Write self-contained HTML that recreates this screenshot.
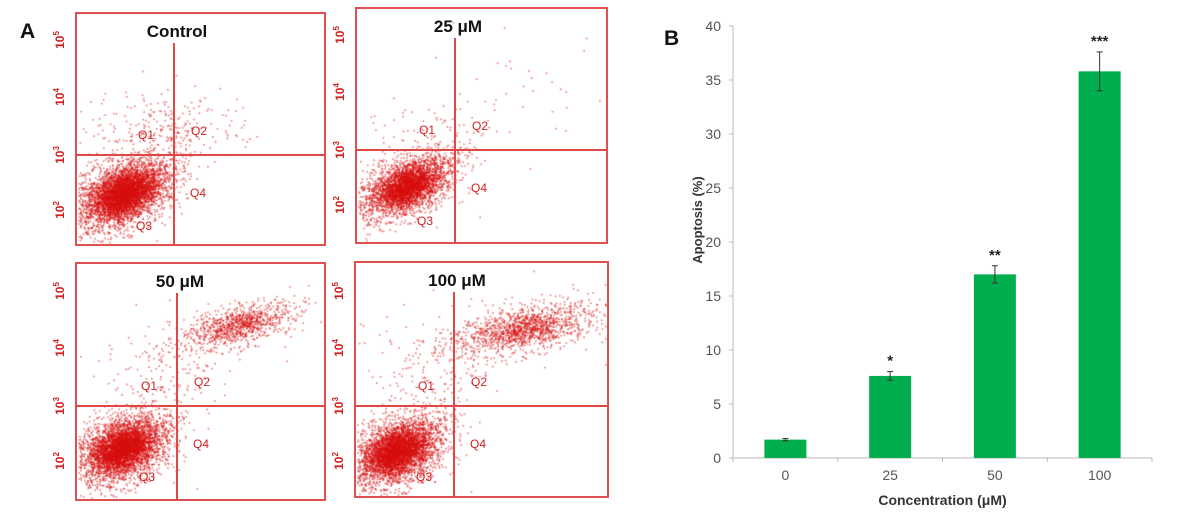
<!DOCTYPE html>
<html><head><meta charset="utf-8"><style>
body{margin:0;background:#fff;}
#wrap{position:relative;width:1202px;height:515px;overflow:hidden;font-family:"Liberation Sans",sans-serif;}
canvas,svg{position:absolute;left:0;top:0;}
</style></head><body>
<div id="wrap">
<canvas id="dots" width="1202" height="515"></canvas>
<svg id="svg" width="1202" height="515"></svg>
</div>
<script>
// Panel B data
const categories = ["0","25","50","100"];
const apoptosis = [1.7, 7.6, 17.0, 35.8];
const errors = [0.1, 0.4, 0.8, 1.8];
const stars = ["", "*", "**", "***"];
const yTicks = [0,5,10,15,20,25,30,35,40];
// Panel A data
const panelTitles = ["Control","25 μM","50 μM","100 μM"];
const panelBoxes = [[76,13,325,245],[356,8,607,243],[76,263,325,500],[355,262,608,497]];
const gateX = [174,455,177,454];
const gateY = [155,150,406,406];
// clusters: [cx, cy, sx, sy, angle, count] relative to gate cross
const clusters = [
 [[-52,38,28,16,-0.45,3000],[-50,38,16,9,-0.45,2500],[-20,-35,35,18,0,150],[10,-20,30,14,-0.2,90]],
 [[-50,36,28,14,-0.45,2200],[-48,36,15,8,-0.45,1800],[-20,-28,40,16,0,60],[60,-60,50,30,-0.3,40]],
 [[-55,42,26,16,-0.45,2800],[-55,42,15,9,-0.45,2300],[62,-82,32,10,-0.25,700],[62,-82,18,6,-0.25,300],[-10,-40,35,25,-0.3,160]],
 [[-58,45,26,16,-0.45,2800],[-58,45,15,9,-0.45,2300],[70,-78,38,12,-0.2,1000],[70,-78,22,7,-0.2,400],[-10,-40,40,30,-0.3,200]]
];
const NS="http://www.w3.org/2000/svg";
const svg=document.getElementById('svg');
function mk(tag,attrs,name,text){const e=document.createElementNS(NS,tag);for(const k in attrs)e.setAttribute(k,attrs[k]);


if(text!==undefined)e.textContent=text;svg.appendChild(e);return e;}
// seeded generator for dot scatter
let seed=12345;function rnd(){seed=(seed*1103515245+12345)%2147483648;return seed/2147483648;}
function gauss(){let u=rnd()||1e-6,v=rnd();return Math.sqrt(-2*Math.log(u))*Math.cos(2*Math.PI*v);}
const ctx=document.getElementById('dots').getContext('2d');
ctx.fillStyle='rgba(215,15,15,0.55)';
panelBoxes.forEach((b,i)=>{
  const gx=gateX[i],gy=gateY[i];
  clusters[i].forEach(c=>{
    const ca=Math.cos(c[4]),sa=Math.sin(c[4]);
    for(let k=0;k<c[5];k++){
      const a=gauss()*c[2],d=gauss()*c[3];
      const x=gx+c[0]+a*ca-d*sa,y=gy+c[1]+a*sa+d*ca;
      if(x>b[0]+2&&x<b[2]-2&&y>b[1]+2&&y<b[3]-2)ctx.fillRect(x,y,1.6,1.6);
    }
  });
  mk('rect',{x:b[0],y:b[1],width:b[2]-b[0],height:b[3]-b[1],fill:'none',stroke:'#e05050','stroke-width':2},'panel-frame-'+i);
  mk('line',{x1:gx,y1:b[1]+30,x2:gx,y2:b[3],stroke:'#e04848','stroke-width':2},'quadrant-vertical-'+i);
  mk('line',{x1:b[0],y1:gy,x2:b[2],y2:gy,stroke:'#e04848','stroke-width':2},'quadrant-horizontal-'+i);
  mk('text',{x:gx+3,y:b[1]+24,'font-size':17,'font-weight':'bold','text-anchor':'middle',fill:'#111'},'panel-title-'+i,panelTitles[i]);
  const q=[['Q1',gx-28,gy-16],['Q2',gx+25,gy-20],['Q3',gx-30,gy+75],['Q4',gx+24,gy+42]];
  q.forEach(t=>mk('text',{x:t[1],y:t[2],'font-size':12,fill:'#d02020','text-anchor':'middle'},'quadrant-label-'+t[0]+'-'+i,t[0]));
  const ex=['5','4','3','2'];const ey=[gy-115,gy-58,gy,gy+55];
  ex.forEach((e,j)=>{const x=b[0]-12,y=ey[j];
    const t=mk('text',{x:x,y:y,'font-size':12,'font-weight':'bold',fill:'#d02020','text-anchor':'middle',transform:`rotate(-90 ${x} ${y})`},'y-tick-label-'+i+'-'+j,'10');
    const s=document.createElementNS(NS,'tspan');s.setAttribute('font-size','8');s.setAttribute('dy','-5');s.textContent=e;t.appendChild(s);});
});
mk('text',{x:20,y:38,'font-size':21,'font-weight':'bold',fill:'#111'},'panel-label-a','A');
mk('text',{x:664,y:45,'font-size':21,'font-weight':'bold',fill:'#111'},'panel-label-b','B');
// Panel B axes
const X0=733,X1=1152,Y0=458,Y40=26;
const ys=v=>Y0-(Y0-Y40)*v/40;
const step=(X1-X0)/categories.length;
const xs=i=>X0+step*(i+0.5);
mk('line',{x1:X0,y1:Y40,x2:X0,y2:Y0,stroke:'#bbb','stroke-width':1},'y-axis');
mk('line',{x1:X0,y1:Y0,x2:X1,y2:Y0,stroke:'#bbb','stroke-width':1},'x-axis');
yTicks.forEach(t=>{mk('line',{x1:X0-4,y1:ys(t),x2:X0,y2:ys(t),stroke:'#bbb'},'y-tick');
 mk('text',{x:X0-12,y:ys(t)+5,'font-size':14,fill:'#555','text-anchor':'end'},'y-tick-label',String(t));});
for(let i=0;i<=categories.length;i++)mk('line',{x1:X0+step*i,y1:Y0,x2:X0+step*i,y2:Y0+4,stroke:'#bbb'},'x-tick');
categories.forEach((c,i)=>{
 const bw=42,x=xs(i);
 mk('rect',{x:x-bw/2,y:ys(apoptosis[i]),width:bw,height:Y0-ys(apoptosis[i]),fill:'#00ae4d'},'bar-'+c);
 const t=ys(apoptosis[i]+errors[i]),bo=ys(apoptosis[i]-errors[i]);
 mk('line',{x1:x,y1:t,x2:x,y2:bo,stroke:'#333'},'error-bar-'+c);
 mk('line',{x1:x-3,y1:t,x2:x+3,y2:t,stroke:'#333'},'error-cap-top-'+c);
 mk('line',{x1:x-3,y1:bo,x2:x+3,y2:bo,stroke:'#333'},'error-cap-bottom-'+c);
 if(stars[i])mk('text',{x:x,y:t-6,'font-size':15,'font-weight':'bold',fill:'#222','text-anchor':'middle'},'significance-'+c,stars[i]);
 mk('text',{x:x,y:Y0+22,'font-size':14,fill:'#555','text-anchor':'middle'},'x-tick-label-'+c,c);
});
mk('text',{x:(X0+X1)/2,y:505,'font-size':14,'font-weight':'bold',fill:'#333','text-anchor':'middle'},'x-axis-title','Concentration (μM)');
mk('text',{x:702,y:220,'font-size':13,'font-weight':'bold',fill:'#333','text-anchor':'middle',transform:'rotate(-90 702 220)'},'y-axis-title','Apoptosis   (%)');
</script>
</body></html>
